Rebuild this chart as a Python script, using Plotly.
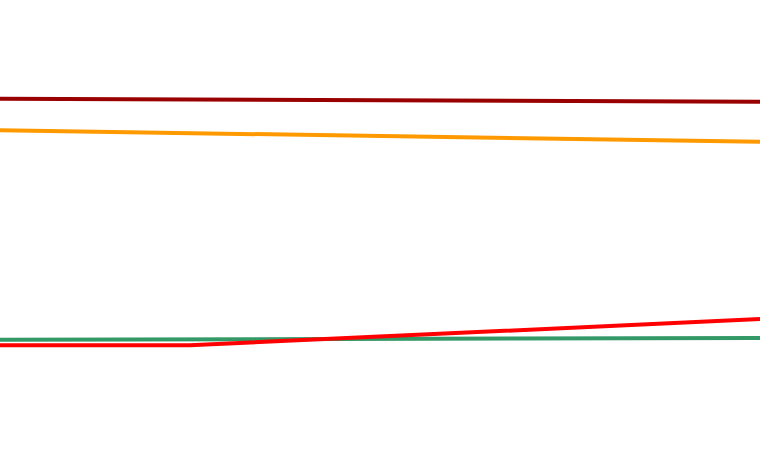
import plotly.graph_objects as go

x_points = [2016, 2017, 2020]
dark_red = [351.3, 350.6, 348.3]
orange = [319.7, 317.0, 308.3]
green = [110.2, 110.4, 112.0]
red = [104.7, 104.7, 131.0]

fig = go.Figure()
fig.add_trace(go.Scatter(x=x_points, y=dark_red, mode="lines", line=dict(color="#990000", width=4)))
fig.add_trace(go.Scatter(x=x_points, y=orange, mode="lines", line=dict(color="#FF9900", width=4)))
fig.add_trace(go.Scatter(x=x_points, y=green, mode="lines", line=dict(color="#339966", width=4)))
fig.add_trace(go.Scatter(x=x_points, y=red, mode="lines", line=dict(color="#FF0000", width=4)))

fig.update_layout(
    width=760, height=450,
    margin=dict(l=0, r=0, t=0, b=0),
    showlegend=False,
    plot_bgcolor="white", paper_bgcolor="white",
    xaxis=dict(range=[2016, 2020], visible=False),
    yaxis=dict(range=[0, 450], visible=False),
)
fig.write_html("out.html", config={"displayModeBar": False})

with open("out.html", "r", encoding="utf-8") as f:
    html = f.read()
html = html.replace("<body>", '<body style="margin:0;padding:0;overflow:hidden">', 1)
with open("out.html", "w", encoding="utf-8") as f:
    f.write(html)
